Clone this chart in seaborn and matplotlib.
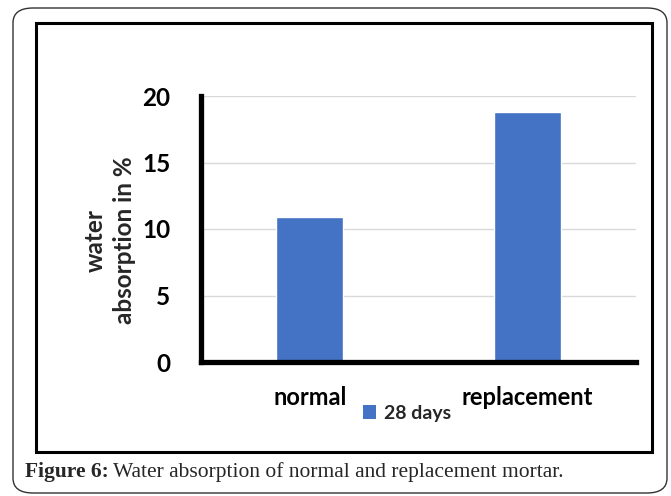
import matplotlib
matplotlib.use("Agg")
import matplotlib.pyplot as plt
from matplotlib.patches import FancyBboxPatch, Rectangle, Patch
import seaborn as sns
import pandas as pd

categories = ["normal", "replacement"]
values = [10.9, 18.8]
series = ["28 days", "28 days"]
y_ticks = [0, 5, 10, 15, 20]

df = pd.DataFrame({"mortar": categories, "absorption": values, "period": series})

sns.set_theme(style="white")
plt.rcParams["font.family"] = ["Lato", "DejaVu Sans"]

W, H = 671, 496
fig = plt.figure(figsize=(W / 100, H / 100), dpi=100)
fig.patch.set_facecolor("white")

def fx(px):
    return px / W

def fy(py):
    return 1 - py / H

# outer rounded frame
outer = FancyBboxPatch((fx(13), fy(493)), fx(667) - fx(13), fy(8) - fy(493),
                       boxstyle="round,pad=0,rounding_size=0.03",
                       transform=fig.transFigure, fill=False, edgecolor="#333333",
                       linewidth=1.0, zorder=0)
fig.patches.append(outer)
# inner black frame
inner = Rectangle((fx(36), fy(452)), fx(652) - fx(36), fy(23) - fy(452),
                  transform=fig.transFigure, fill=False, edgecolor="black",
                  linewidth=2.2, zorder=0)
fig.patches.append(inner)

ax = fig.add_axes([fx(201), fy(362), fx(636) - fx(201), fy(96) - fy(362)])
sns.barplot(data=df, x="mortar", y="absorption", hue="period", dodge=False,
            palette=["#4472C4"], width=0.31, ax=ax, legend=False, saturation=1)
ax.set_xlim(-0.5, 1.5)
ax.set_ylim(0, 20)
ax.set_yticks(y_ticks)
ax.set_yticklabels([str(t) for t in y_ticks], fontsize=17.5, fontweight="bold")
ax.set_xticks(range(len(categories)))
ax.set_xticklabels(categories, fontsize=17, fontweight="bold")
ax.tick_params(axis="y", length=0, pad=22, colors="black")
ax.tick_params(axis="x", length=0, pad=17, colors="black")
ax.yaxis.grid(True, color="#d9d9d9", linewidth=1.0)
ax.set_axisbelow(True)
for s in ["top", "right"]:
    ax.spines[s].set_visible(False)
for s in ["left", "bottom"]:
    ax.spines[s].set_color("black")
    ax.spines[s].set_linewidth(3.8)
ax.set_xlabel("")
ax.set_ylabel("")

fig.text(fx(110), fy(240), "water\nabsorption in %", rotation=90, ha="center",
         va="center", multialignment="center", fontsize=17.5, fontweight="bold",
         linespacing=1.35)

# legend
handle = Patch(facecolor="#4472C4", edgecolor="none", label=series[0])
fig.legend(handles=[handle], loc="center", bbox_to_anchor=(fx(407), fy(413)),
           frameon=False, prop={"family": ["Lato"], "weight": "bold", "size": 14},
           handlelength=0.7, handleheight=0.7, handletextpad=0.4)

# caption
cap1 = fig.text(fx(25), fy(472), "Figure 6:", fontsize=15.5, fontweight="bold",
                family=["Liberation Serif"], va="center", ha="left")
fig.canvas.draw()
bb = cap1.get_window_extent(renderer=fig.canvas.get_renderer())
fig.text(bb.x1 / W + fx(4), fy(472), "Water absorption of normal and replacement mortar.",
         fontsize=15.5, family=["Liberation Serif"], va="center", ha="left")

fig.savefig("out.png", dpi=100)
